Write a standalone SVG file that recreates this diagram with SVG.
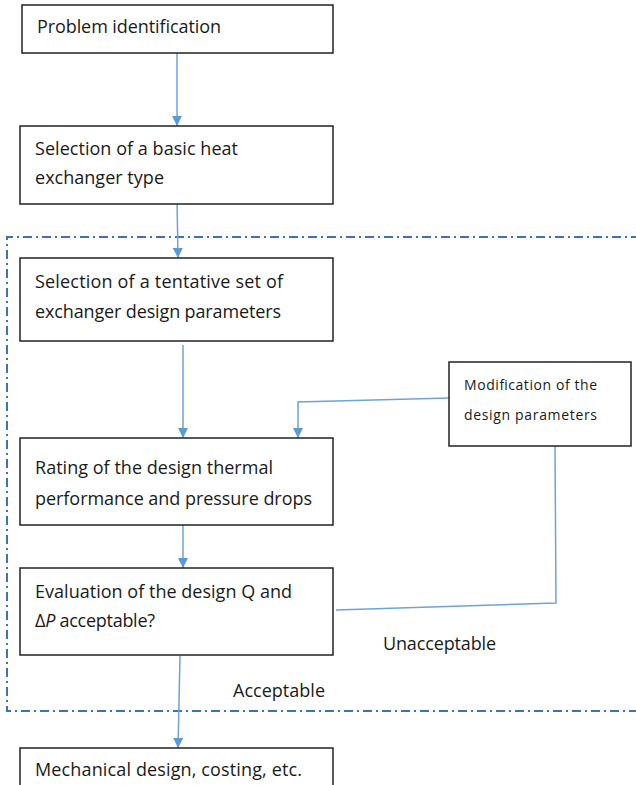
<svg xmlns="http://www.w3.org/2000/svg" width="636" height="785" viewBox="0 0 636 785">
<style>
.box{fill:#fff;stroke:#222;stroke-width:1.5}
.t{font-family:"Open Sans","Liberation Sans",sans-serif;font-size:18px;fill:#1a1a1a}
.ts{font-family:"Open Sans","Liberation Sans",sans-serif;font-size:14px;fill:#1a1a1a}
.c{fill:none;stroke:#6fa3d8;stroke-width:1.5}
.b{fill:none;stroke:#3f6fc4;stroke-width:2;stroke-dasharray:9 4 2 4}
</style>
<defs>
<marker id="ah" viewBox="0 0 10 10" refX="10" refY="5" markerWidth="10" markerHeight="10" markerUnits="userSpaceOnUse" orient="auto">
<path d="M0,0 L10,5 L0,10 z" fill="#5b9bd5"/>
</marker>
</defs>
<rect width="636" height="785" fill="#fff"/>
<path class="b" d="M640 237 H7 V711 H640"/>
<g id="connectors">
<line class="c" x1="177" y1="53" x2="177" y2="126" marker-end="url(#ah)"/>
<line class="c" x1="177" y1="200" x2="178" y2="258" marker-end="url(#ah)"/>
<line class="c" x1="183" y1="345" x2="183" y2="438" marker-end="url(#ah)"/>
<polyline class="c" points="449,398 298,402 298,438" marker-end="url(#ah)"/>
<line class="c" x1="183" y1="521" x2="183" y2="568" marker-end="url(#ah)"/>
<polyline class="c" points="555,446 556,603 336,610"/>
<line class="c" x1="180" y1="656" x2="178" y2="748" marker-end="url(#ah)"/>
</g>
<g id="n1"><rect class="box" x="22" y="5" width="311" height="48"/><text class="t" x="37" y="33" textLength="184">Problem identification</text></g>
<g id="n2"><rect class="box" x="20" y="126" width="313" height="78"/><text class="t" x="35" y="155" textLength="203">Selection of a basic heat</text><text class="t" x="35" y="184" textLength="129">exchanger type</text></g>
<g id="n3"><rect class="box" x="20" y="258" width="313" height="83"/><text class="t" x="35" y="288" textLength="248">Selection of a tentative set of</text><text class="t" x="35" y="318" textLength="246">exchanger design parameters</text></g>
<g id="n4"><rect class="box" x="20" y="438" width="313" height="87"/><text class="t" x="35" y="474" textLength="238">Rating of the design thermal</text><text class="t" x="35" y="505" textLength="277">performance and pressure drops</text></g>
<g id="n5"><rect class="box" x="449" y="362" width="182" height="84"/><text class="ts" x="464" y="390" textLength="133">Modification of the</text><text class="ts" x="464" y="420" textLength="133">design parameters</text></g>
<g id="n6"><rect class="box" x="20" y="568" width="313" height="87"/><text class="t" x="35" y="598" textLength="257">Evaluation of the design Q and</text><text class="t" x="35" y="627" textLength="120">Δ<tspan font-style="italic">P</tspan> acceptable?</text></g>
<g id="n7"><rect class="box" x="20" y="748" width="313" height="45"/><text class="t" x="35" y="776" textLength="267">Mechanical design, costing, etc.</text></g>
<text class="t" x="383" y="650" textLength="113">Unacceptable</text>
<text class="t" x="233" y="697" textLength="92">Acceptable</text>
</svg>
